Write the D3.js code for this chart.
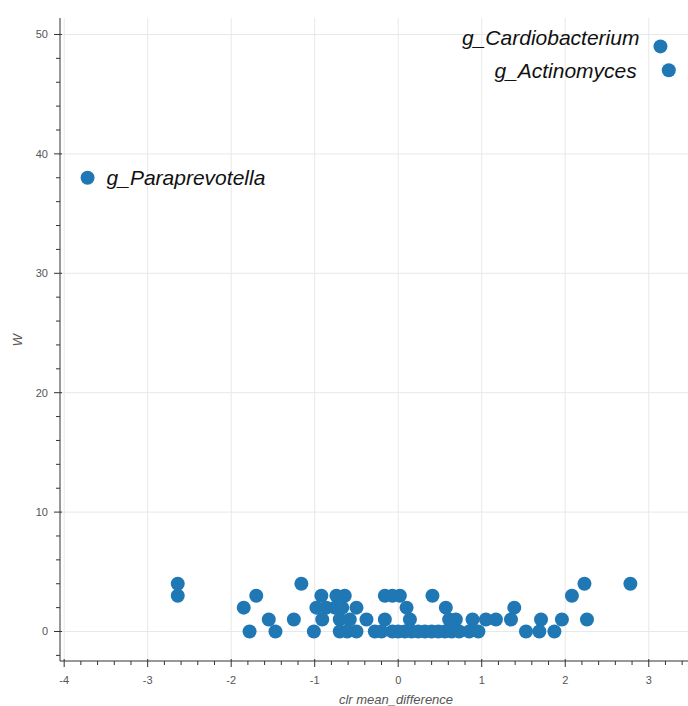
<!DOCTYPE html>
<html>
<head>
<meta charset="utf-8">
<script src="https://cdn.jsdelivr.net/npm/d3@7"></script>
<style>
  html, body { margin: 0; padding: 0; background: #fff; }
  svg { display: block; font-family: "Liberation Sans", Arial, Helvetica, sans-serif; }
</style>
</head>
<body>
<svg id="chart" width="688" height="706"></svg>
<script>
// ANCOM volcano-style plot: clr mean difference vs W statistic per genus

// Genera that were not significant (unlabelled points)
const clrMeanDifference = [
  // W = 4
  -2.64, -1.16, 2.23, 2.78,
  // W = 3
  -2.64, -1.70, -0.92, -0.74, -0.64, -0.16, -0.07, 0.02, 0.41, 2.08,
  // W = 2
  -1.85, -0.98, -0.86, -0.76, -0.67, -0.50, 0.10, 0.57, 1.39,
  // W = 1
  -1.55, -1.25, -0.91, -0.70, -0.58, -0.38, -0.16, 0.14, 0.61, 0.69, 0.89, 1.05, 1.17, 1.35, 1.71, 1.96, 2.26,
  // W = 0
  -1.78, -1.47, -1.01, -0.70, -0.61, -0.50, -0.28, -0.20, -0.07, 0.00, 0.08, 0.16, 0.24, 0.32, 0.40, 0.48, 0.56, 0.64, 0.73, 0.85, 0.96, 1.53, 1.69, 1.87
];
const wStatistic = [
  4, 4, 4, 4,
  3, 3, 3, 3, 3, 3, 3, 3, 3, 3,
  2, 2, 2, 2, 2, 2, 2, 2, 2,
  1, 1, 1, 1, 1, 1, 1, 1, 1, 1, 1, 1, 1, 1, 1, 1, 1,
  0, 0, 0, 0, 0, 0, 0, 0, 0, 0, 0, 0, 0, 0, 0, 0, 0, 0, 0, 0, 0, 0, 0, 0
];

// Significant genera, drawn with their names
const taxa = ["g_Paraprevotella", "g_Cardiobacterium", "g_Actinomyces"];
const taxaClr = [-3.72, 3.14, 3.24];
const taxaW = [38, 49, 47];

// Axis ticks
const xTicks = [-4, -3, -2, -1, 0, 1, 2, 3];
const yTicks = [0, 10, 20, 30, 40, 50];

// Name placement relative to each point (px): [dx, dy, anchor]
const namePlacement = [[19, 0, "start"], [-21, -9, "end"], [-32, 0, "end"]];

const frame = { left: 60, right: 688, top: 18, bottom: 661 };
const svg = d3.select("#chart");

const x = d3.scaleLinear().domain([-4.05, 3.47]).range([frame.left, frame.right]);
const y = d3.scaleLinear().domain([-2.47, 51.38]).range([frame.bottom, frame.top]);

// Grid
const grid = svg.append("g");
grid.selectAll("line.vx").data(xTicks).join("line")
  .attr("x1", d => x(d)).attr("x2", d => x(d))
  .attr("y1", frame.top).attr("y2", frame.bottom)
  .attr("stroke", "#e8e8e8").attr("stroke-width", 1);
grid.selectAll("line.hy").data(yTicks).join("line")
  .attr("x1", frame.left).attr("x2", frame.right)
  .attr("y1", d => y(d)).attr("y2", d => y(d))
  .attr("stroke", "#e8e8e8").attr("stroke-width", 1);

// Points
const pts = clrMeanDifference.map((v, i) => ({ x: v, w: wStatistic[i] }));
const sig = taxa.map((t, i) => ({ name: t, x: taxaClr[i], w: taxaW[i], place: namePlacement[i] }));

svg.append("g").selectAll("circle")
  .data(pts.concat(sig)).join("circle")
  .attr("cx", d => x(d.x)).attr("cy", d => y(d.w))
  .attr("r", 7)
  .attr("fill", "#1f77b4");

svg.append("g").selectAll("text")
  .data(sig).join("text")
  .attr("x", d => x(d.x) + d.place[0])
  .attr("y", d => y(d.w) + d.place[1])
  .attr("dy", "0.35em")
  .attr("text-anchor", d => d.place[2])
  .attr("font-size", 21)
  .attr("font-style", "italic")
  .attr("fill", "#111")
  .text(d => d.name);

// Axes (Bokeh-like: major ticks out 6 / in 2, minor out 4)
const axisColor = "#333";
const axes = svg.append("g").attr("stroke", axisColor).attr("stroke-width", 1);

axes.append("line")
  .attr("x1", frame.left).attr("x2", frame.right)
  .attr("y1", frame.bottom).attr("y2", frame.bottom);
axes.append("line")
  .attr("x1", frame.left).attr("x2", frame.left)
  .attr("y1", frame.top).attr("y2", frame.bottom);

const xMinor = d3.range(-40, 35, 2).map(v => v / 10).filter(v => !xTicks.includes(v));
const yMinor = d3.range(-2, 52, 2).filter(v => !yTicks.includes(v));

axes.selectAll("line.xmaj").data(xTicks).join("line")
  .attr("x1", d => x(d)).attr("x2", d => x(d))
  .attr("y1", frame.bottom - 2).attr("y2", frame.bottom + 6);
axes.selectAll("line.xmin").data(xMinor).join("line")
  .attr("x1", d => x(d)).attr("x2", d => x(d))
  .attr("y1", frame.bottom).attr("y2", frame.bottom + 4);
axes.selectAll("line.ymaj").data(yTicks).join("line")
  .attr("x1", frame.left + 2).attr("x2", frame.left - 6)
  .attr("y1", d => y(d)).attr("y2", d => y(d));
axes.selectAll("line.ymin").data(yMinor).join("line")
  .attr("x1", frame.left).attr("x2", frame.left - 4)
  .attr("y1", d => y(d)).attr("y2", d => y(d));

const labels = svg.append("g").attr("fill", "#555").attr("font-size", 11);
labels.selectAll("text.xl").data(xTicks).join("text")
  .attr("x", d => x(d)).attr("y", frame.bottom + 23)
  .attr("text-anchor", "middle")
  .text(d => String(d));
labels.selectAll("text.yl").data(yTicks).join("text")
  .attr("x", frame.left - 12).attr("y", d => y(d)).attr("dy", "0.35em")
  .attr("text-anchor", "end")
  .text(d => String(d));

// Axis titles
svg.append("text")
  .attr("x", 396).attr("y", 704)
  .attr("text-anchor", "middle")
  .attr("font-size", 13).attr("font-style", "italic").attr("fill", "#555")
  .text("clr mean_difference");
svg.append("text")
  .attr("transform", "translate(22,340) rotate(-90)")
  .attr("text-anchor", "middle")
  .attr("font-size", 13).attr("font-style", "italic").attr("fill", "#555")
  .text("W");
</script>
</body>
</html>
